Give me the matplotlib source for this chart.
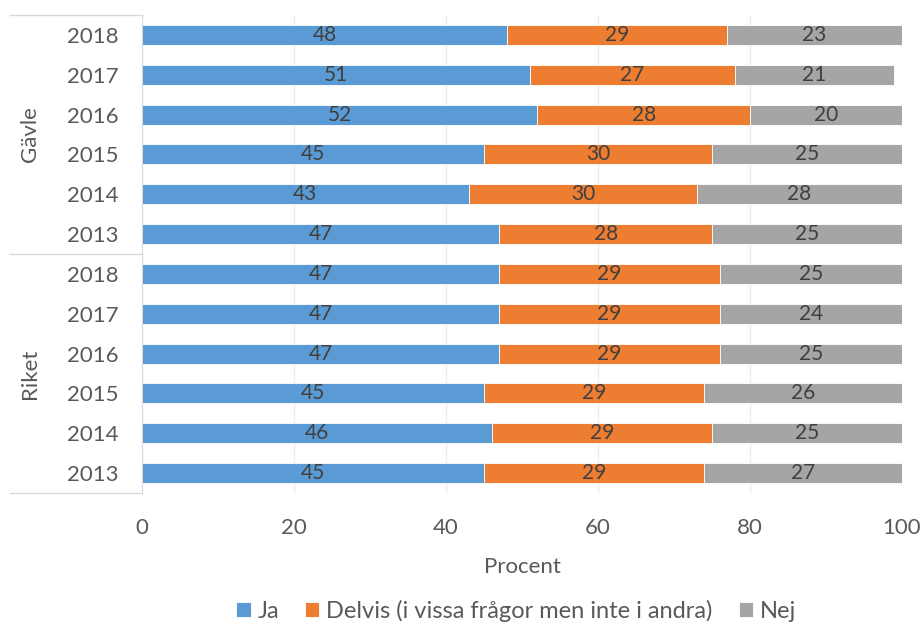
import numpy as np
import matplotlib
matplotlib.use("Agg")
import matplotlib.pyplot as plt

plt.rcParams['font.family'] = ['Lato', 'DejaVu Sans']

# data, top row first
groups = ["Gävle", "Riket"]
years = ["2018", "2017", "2016", "2015", "2014", "2013"]
ja_gavle = [48, 51, 52, 45, 43, 47]
delvis_gavle = [29, 27, 28, 30, 30, 28]
nej_gavle = [23, 21, 20, 25, 28, 25]
ja_riket = [47, 47, 47, 45, 46, 45]
delvis_riket = [29, 29, 29, 29, 29, 29]
nej_riket = [25, 24, 25, 26, 25, 27]

series = ["Ja", "Delvis (i vissa frågor men inte i andra)", "Nej"]
colors = ["#5B9BD5", "#ED7D31", "#A5A5A5"]

ja = np.array(ja_gavle + ja_riket)
delvis = np.array(delvis_gavle + delvis_riket)
nej = np.array(nej_gavle + nej_riket)
n = len(ja)
ypos = np.arange(n)[::-1]

fig = plt.figure(figsize=(9.22, 6.26), dpi=100)
ax = fig.add_axes([142/922, 1-493/626, 760/922, 478/626])

left = np.zeros(n)
for vals, col, name in zip([ja, delvis, nej], colors, series):
    ax.barh(ypos, vals, left=left, height=0.5, color=col, edgecolor='white',
            linewidth=0.6, label=name, zorder=2)
    for y, l, v in zip(ypos, left, vals):
        right = min(l + v, 100)
        ax.text((l + right) / 2, y, str(v), ha='center', va='center',
                fontsize=15, color='#404040', zorder=3)
    left = left + vals

ax.set_xlim(0, 100)
ax.set_ylim(-0.5, n - 0.5)
ax.set_xticks(range(0, 101, 20))
ax.xaxis.grid(True, color='#ebebeb', linewidth=1, zorder=0)
ax.set_yticks(ypos)
ax.set_yticklabels(years * 2)
ax.tick_params(axis='both', length=0, labelsize=16, labelcolor='#595959')
ax.tick_params(axis='y', pad=17)
ax.tick_params(axis='x', pad=18)
for s in ['top', 'bottom', 'right']:
    ax.spines[s].set_visible(False)
ax.spines['left'].set_color('#d9d9d9')
ax.set_xlabel("Procent", fontsize=16, color='#595959', labelpad=14)

# grouped category axis
x0 = (10 - 142) / 760
for yb in [-0.5, 5.5, 11.5]:
    ax.plot([x0, 0], [yb, yb], transform=ax.get_yaxis_transform(),
            color='#d9d9d9', linewidth=1, clip_on=False)
for i, g in enumerate(groups):
    yc = (n - 1) - (i * 6 + 2.5)
    ax.text((30 - 142) / 760, yc, g, rotation=90, ha='center', va='center',
            fontsize=16, color='#595959', transform=ax.get_yaxis_transform())

fig.legend(loc='lower center', bbox_to_anchor=(0.56, -0.027), ncol=3, frameon=False,
           fontsize=17, handlelength=0.6, handleheight=0.6, handletextpad=0.3,
           columnspacing=1.1, labelcolor='#595959')

fig.savefig("out.png", dpi=100)
